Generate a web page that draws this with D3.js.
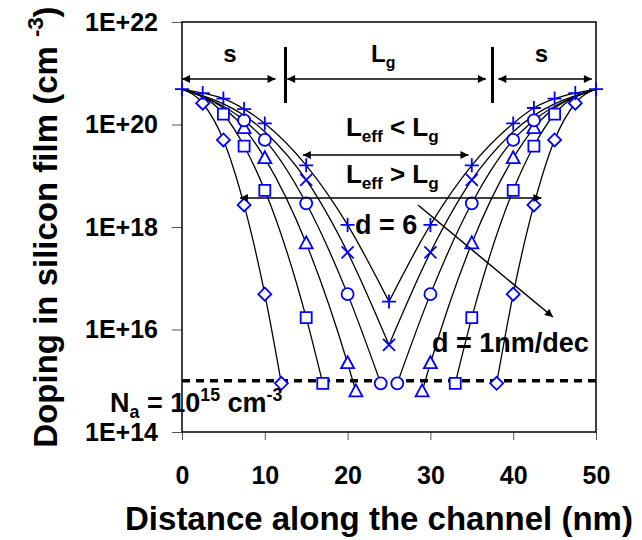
<!DOCTYPE html>
<meta charset="utf-8">
<script src="https://d3js.org/d3.v7.min.js"></script>
<style>
  body { margin: 0; background: #fff; }
  text { font-family: "Liberation Sans", Arial, sans-serif; font-weight: bold; fill: #000; }
</style>
<div id="chart"></div>
<script>
// distance along the channel (nm) and doping (cm^-3)
var diamondX = [0, 2.5, 5, 7.5, 10, 12, 38, 40, 42.5, 45, 47.5, 50];
var diamondV = [4.9e20, 2.6e20, 5.0e19, 2.7e18, 4.9e16, 8.9e14, 8.9e14, 4.9e16, 2.7e18, 5.0e19, 2.6e20, 4.9e20];
var squareX = [0, 5, 7.5, 10, 15, 17, 33, 35, 40, 42.5, 45, 50];
var squareV = [4.9e20, 1.6e20, 3.8e19, 5.2e18, 1.7e16, 8.9e14, 8.9e14, 1.7e16, 5.2e18, 3.8e19, 1.6e20, 4.9e20];
var triangleX = [0, 7.5, 10, 15, 20, 21, 29, 30, 35, 40, 42.5, 50];
var triangleV = [4.9e20, 8.5e19, 2.2e19, 4.8e17, 2.2e15, 6.2e14, 6.2e14, 2.2e15, 4.8e17, 2.2e19, 8.5e19, 4.9e20];
var circleX = [0, 7.5, 10, 15, 20, 24, 26, 30, 35, 40, 42.5, 50];
var circleV = [4.9e20, 1.2e20, 5.0e19, 2.9e18, 4.9e16, 8.9e14, 8.9e14, 4.9e16, 2.9e18, 5.0e19, 1.2e20, 4.9e20];
var crossX = [0, 10, 15, 20, 25, 30, 35, 40, 50];
var crossV = [4.9e20, 7.2e19, 8.3e18, 3.2e17, 5.0e15, 3.2e17, 8.3e18, 7.2e19, 4.9e20];
var plusX = [0, 2.5, 5, 7.5, 10, 15, 20, 25, 30, 35, 40, 42.5, 45, 47.5, 50];
var plusV = [4.9e20, 4.1e20, 3.2e20, 2.0e20, 1.05e20, 1.6e19, 1.1e18, 3.5e16, 1.1e18, 1.6e19, 1.05e20, 2.1e20, 3.2e20, 4.1e20, 4.9e20];

// curve nodes that carry no symbol
var diamondBare = [0, 50], squareBare = [0, 50], triangleBare = [0, 50],
    circleBare = [0, 50], crossBare = [0, 10, 40, 50], plusBare = [];

var substrateDoping = 1e15;
var xTicks = [0, 10, 20, 30, 40, 50];
var yTicks = [1e14, 1e16, 1e18, 1e20, 1e22];

var series = [
  {shape: "diamond", x: diamondX, v: diamondV, bare: diamondBare},
  {shape: "square", x: squareX, v: squareV, bare: squareBare},
  {shape: "triangle", x: triangleX, v: triangleV, bare: triangleBare},
  {shape: "circle", x: circleX, v: circleV, bare: circleBare},
  {shape: "cross", x: crossX, v: crossV, bare: crossBare},
  {shape: "plus", x: plusX, v: plusV, bare: plusBare}
];

var W = 642, H = 540;
var svg = d3.select("#chart").append("svg")
    .attr("width", W).attr("height", H);

var x = d3.scaleLinear().domain([0, 50]).range([182, 596]);
var y = d3.scaleLog().domain([1e14, 1e22]).range([432, 22]);

// arrowhead
svg.append("defs").append("marker")
    .attr("id", "ah")
    .attr("viewBox", "0 0 10 10")
    .attr("refX", 10).attr("refY", 5)
    .attr("markerWidth", 11).attr("markerHeight", 8)
    .attr("markerUnits", "userSpaceOnUse")
    .attr("orient", "auto-start-reverse")
  .append("path").attr("d", "M0,0L10,5L0,10Z").attr("fill", "#000");

// axes
var yAxis = svg.append("g")
    .attr("transform", "translate(" + x(0) + ",0)")
    .call(d3.axisLeft(y).tickValues(yTicks).tickSize(10).tickPadding(14)
      .tickFormat(function(d) { return "1E+" + Math.round(Math.log10(d)); }));
var xAxis = svg.append("g")
    .attr("transform", "translate(0," + y(1e14) + ")")
    .call(d3.axisBottom(x).tickValues(xTicks).tickSize(8).tickPadding(26).tickFormat(d3.format("d")));
[xAxis, yAxis].forEach(function(a) {
  a.select(".domain").remove();
  a.selectAll(".tick line").attr("stroke", "#555");
  a.selectAll("text").style("font-size", "25px").attr("fill", "#000");
});

// plot frame
svg.append("rect")
    .attr("x", x(0)).attr("y", y(1e22))
    .attr("width", x(50) - x(0)).attr("height", y(1e14) - y(1e22))
    .attr("fill", "none").attr("stroke", "#000").attr("stroke-width", 1.5);

// curves: left and right halves, each drawn smoothly
var line = d3.line()
    .x(function(d) { return x(d[0]); })
    .y(function(d) { return y(d[1]); })
    .curve(d3.curveMonotoneX);

series.forEach(function(s) {
  var pts = s.x.map(function(d, i) { return [d, s.v[i]]; });
  var halves = [pts.filter(function(p) { return p[0] <= 25; }),
                pts.filter(function(p) { return p[0] >= 25; })];
  halves.forEach(function(h) {
    svg.append("path").datum(h)
        .attr("d", line)
        .attr("fill", "none").attr("stroke", "#000").attr("stroke-width", 1.3);
  });
});

// substrate doping level
svg.append("line")
    .attr("x1", x(0)).attr("x2", x(50))
    .attr("y1", y(substrateDoping)).attr("y2", y(substrateDoping))
    .attr("stroke", "#000").attr("stroke-width", 3.5).attr("stroke-dasharray", "8,6");

// symbols
var shapes = {
  diamond: "M0,-6.5L6.5,0L0,6.5L-6.5,0Z",
  square: "M-5.5,-5.5H5.5V5.5H-5.5Z",
  triangle: "M0,-7L6.5,5H-6.5Z",
  circle: "M6,0A6,6 0 1 1 -6,0A6,6 0 1 1 6,0Z",
  cross: "M-6,-6L6,6M-6,6L6,-6",
  plus: "M-7,0H7M0,-7V7"
};
series.forEach(function(s) {
  var pts = s.x.map(function(d, i) { return [d, s.v[i]]; })
      .filter(function(p) { return s.bare.indexOf(p[0]) < 0; });
  svg.append("g").selectAll("path").data(pts).enter().append("path")
      .attr("transform", function(p) { return "translate(" + x(p[0]) + "," + y(p[1]) + ")"; })
      .attr("d", shapes[s.shape])
      .attr("fill", (s.shape == "cross" || s.shape == "plus") ? "none" : "#fff")
      .attr("stroke", "#0000ff").attr("stroke-width", 1.8);
});

// helper for text with sub / superscripts
function rich(parts, px, py, size, anchor) {
  var t = svg.append("text").attr("x", px).attr("y", py)
      .style("font-size", size + "px").attr("text-anchor", anchor || "start");
  var shift = 0;
  parts.forEach(function(p) {
    var want = p[1] == "sub" ? size * 0.24 : p[1] == "sup" ? -size * 0.42 : 0;
    t.append("tspan").text(p[0])
        .attr("dy", want - shift)
        .style("font-size", p[1] ? (size * 0.66) + "px" : null);
    shift = want;
  });
  return t;
}

function arrow(x1, y1, x2, y2, both) {
  var l = svg.append("line")
      .attr("x1", x1).attr("y1", y1).attr("x2", x2).attr("y2", y2)
      .attr("stroke", "#000").attr("stroke-width", 1.5)
      .attr("marker-end", "url(#ah)");
  if (both) l.attr("marker-start", "url(#ah)");
}

// source / gate / drain annotation
var topY = 79;
arrow(x(0), topY, x(11.3), topY, true);
arrow(x(12.7), topY, x(36.7), topY, true);
arrow(x(38.2), topY, x(49.5), topY, true);
[12.5, 37.5].forEach(function(g) {
  svg.append("line").attr("x1", x(g)).attr("x2", x(g)).attr("y1", 47).attr("y2", 103)
      .attr("stroke", "#000").attr("stroke-width", 3);
});
rich([["s"]], x(5.8), 62, 24, "middle");
rich([["L"], ["g", "sub"]], x(24.3), 62, 24, "middle");
rich([["s"]], x(43.4), 62, 24, "middle");

// effective length annotations
arrow(x(14.6), 155, x(34.6), 155, true);
rich([["L"], ["eff", "sub"], [" < L"], ["g", "sub"]], x(25.4), 136, 26, "middle");
arrow(x(7.0), 198, x(43.4), 198, true);
rich([["L"], ["eff", "sub"], [" > L"], ["g", "sub"]], x(25.4), 183, 26, "middle");

rich([["d = 6"]], x(20.9), 234, 27, "start");
arrow(x(28.5), 205, x(44.8), 317, false);
rich([["d = 1nm/dec"]], x(30.2), 352, 27, "start");

rich([["N"], ["a", "sub"], [" = 10"], ["15", "sup"], [" cm"], ["-3", "sup"]], 110, 412, 27, "start");

// axis titles
svg.append("text")
    .attr("x", 379).attr("y", 530).attr("text-anchor", "middle")
    .style("font-size", "33px")
    .text("Distance along the channel (nm)");

var yt = svg.append("text")
    .attr("transform", "translate(57,227) rotate(-90)")
    .attr("text-anchor", "middle")
    .style("font-size", "33px");
yt.append("tspan").text("Doping in silicon film (cm ");
yt.append("tspan").text("-3").attr("dy", -14).style("font-size", "22px");
yt.append("tspan").text(")").attr("dy", 14);
</script>
